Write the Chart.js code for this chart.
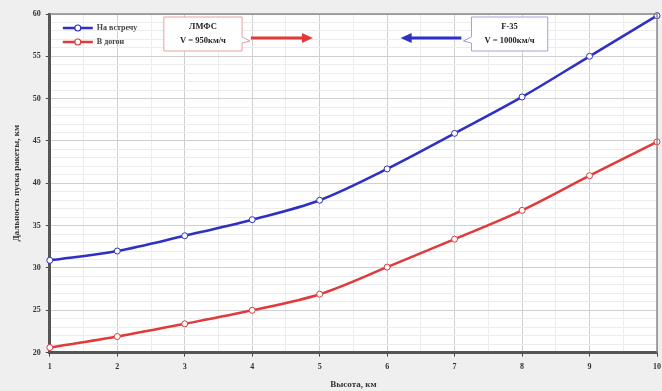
<!DOCTYPE html>
<html>
<head>
<meta charset="utf-8">
<script src="https://cdn.jsdelivr.net/npm/chart.js@4.4.1/dist/chart.umd.min.js"></script>
<style>
  html, body { margin: 0; padding: 0; background: #efefef; }
  #wrap { width: 662px; height: 391px; }
</style>
</head>
<body>
<div id="wrap"><canvas id="c" width="662" height="391"></canvas></div>
<script>
// heights, km
const heights = [1, 2, 3, 4, 5, 6, 7, 8, 9, 10];
// launch range, km
const headOn = [30.9, 32.0, 33.8, 35.7, 38.0, 41.7, 45.9, 50.2, 55.0, 59.8];
const tailChase = [20.6, 21.9, 23.4, 25.0, 26.9, 30.1, 33.4, 36.8, 40.9, 44.9];
const seriesNames = ["На встречу", "В догон"];
const boxLeft = ["ЛМФС", "V = 950км/ч"];
const boxRight = ["F-35", "V = 1000км/ч"];

const BLUE = "#2f2fc4";
const RED = "#e03a3a";
const serif = "'Liberation Serif', 'DejaVu Serif', serif";

const toPoints = (ys) => heights.map((h, i) => ({ x: h, y: ys[i] }));

const decor = {
  id: "decor",
  beforeDraw(chart) {
    const { ctx, chartArea: a } = chart;
    ctx.save();
    ctx.fillStyle = "#efefef";
    ctx.fillRect(0, 0, chart.width, chart.height);
    ctx.fillStyle = "#ffffff";
    ctx.fillRect(a.left, a.top, a.right - a.left, a.bottom - a.top);
    ctx.restore();
  },
  afterDraw(chart) {
    const { ctx, chartArea: a, scales } = chart;
    const xs = scales.x;
    ctx.save();
    // frame top / right
    ctx.strokeStyle = "#8a8a8a";
    ctx.lineWidth = 1.5;
    ctx.beginPath();
    ctx.moveTo(a.left, a.top);
    ctx.lineTo(a.right, a.top);
    ctx.lineTo(a.right, a.bottom);
    ctx.stroke();

    // legend
    const items = [[seriesNames[0], BLUE], [seriesNames[1], RED]];
    items.forEach(([label, col], i) => {
      const y = a.top + 14 + i * 14;
      const x0 = a.left + 13;
      ctx.strokeStyle = col;
      ctx.lineWidth = 2.5;
      ctx.beginPath();
      ctx.moveTo(x0, y);
      ctx.lineTo(x0 + 30, y);
      ctx.stroke();
      ctx.beginPath();
      ctx.arc(x0 + 15, y, 3, 0, Math.PI * 2);
      ctx.fillStyle = "#fff";
      ctx.fill();
      ctx.lineWidth = 1.2;
      ctx.stroke();
      ctx.fillStyle = "#444";
      ctx.font = "bold 8px " + serif;
      ctx.textBaseline = "middle";
      ctx.textAlign = "left";
      ctx.fillText(label, x0 + 34, y);
    });

    // callout boxes
    const drawBox = (x1, x2, lines, col, tailRight) => {
      const l = xs.getPixelForValue(x1), r = xs.getPixelForValue(x2);
      const t = a.top + 3, b = a.top + 37;
      ctx.fillStyle = "#ffffff";
      ctx.strokeStyle = col;
      ctx.lineWidth = 1;
      ctx.beginPath();
      ctx.moveTo(l, t);
      ctx.lineTo(r, t);
      if (tailRight) {
        ctx.lineTo(r, b - 14);
        ctx.lineTo(r + 8, b - 10);
        ctx.lineTo(r, b - 8);
        ctx.lineTo(r, b);
        ctx.lineTo(l, b);
      } else {
        ctx.lineTo(r, b);
        ctx.lineTo(l, b);
        ctx.lineTo(l, b - 8);
        ctx.lineTo(l - 8, b - 10);
        ctx.lineTo(l, b - 14);
      }
      ctx.closePath();
      ctx.fill();
      ctx.stroke();
      ctx.fillStyle = "#222";
      ctx.font = "bold 8.5px " + serif;
      ctx.textAlign = "center";
      ctx.textBaseline = "middle";
      ctx.fillText(lines[0], (l + r) / 2, t + 10);
      ctx.fillText(lines[1], (l + r) / 2, t + 24);
    };
    drawBox(2.69, 3.85, boxLeft, "#e8a0a0", true);
    drawBox(7.25, 8.38, boxRight, "#a0a0e0", false);

    // arrows
    const arrow = (fromX, toX, col) => {
      const y = a.top + 24;
      const p1 = xs.getPixelForValue(fromX), p2 = xs.getPixelForValue(toX);
      const dir = Math.sign(p2 - p1);
      ctx.strokeStyle = col;
      ctx.fillStyle = col;
      ctx.lineWidth = 3;
      ctx.beginPath();
      ctx.moveTo(p1, y);
      ctx.lineTo(p2 - dir * 8, y);
      ctx.stroke();
      ctx.beginPath();
      ctx.moveTo(p2, y);
      ctx.lineTo(p2 - dir * 11, y - 5);
      ctx.lineTo(p2 - dir * 11, y + 5);
      ctx.closePath();
      ctx.fill();
    };
    arrow(3.98, 4.9, RED);
    arrow(7.1, 6.2, BLUE);
    ctx.restore();
  }
};

const lineDs = (label, ys, col) => ({
  label,
  data: toPoints(ys),
  borderColor: col,
  borderWidth: 2.5,
  pointRadius: 3,
  pointBorderWidth: 1,
  pointBackgroundColor: "#ffffff",
  pointBorderColor: col,
  cubicInterpolationMode: "monotone",
  clip: false
});

new Chart(document.getElementById("c"), {
  type: "line",
  data: {
    datasets: [
      lineDs(seriesNames[0], headOn, BLUE),
      lineDs(seriesNames[1], tailChase, RED)
    ]
  },
  options: {
    responsive: false,
    animation: false,
    layout: { padding: { top: 14, right: 5, left: 7, bottom: 0 } },
    plugins: { legend: { display: false }, tooltip: { enabled: false } },
    scales: {
      x: {
        type: "linear",
        min: 1,
        max: 10,
        afterFit: (s) => { s.paddingRight = 0; },
        ticks: {
          stepSize: 0.5,
          autoSkip: false,
          maxRotation: 0,
          padding: 6,
          color: "#333",
          font: { family: serif, size: 8, weight: "bold" },
          callback: (v) => (Number.isInteger(v) ? v : "")
        },
        grid: {
          color: (c) => (Number.isInteger(c.tick && c.tick.value) ? "#d0d0d0" : "#ececec"),
          tickColor: (c) => (Number.isInteger(c.tick && c.tick.value) ? "#444" : "rgba(0,0,0,0)"),
          tickLength: 4,
          lineWidth: 1
        },
        border: { color: "#555", width: 3 },
        title: {
          display: true,
          text: "Высота, км",
          color: "#333",
          font: { family: serif, size: 9, weight: "bold" },
          padding: { top: 1, bottom: 1 }
        }
      },
      y: {
        min: 20,
        max: 60,
        ticks: {
          stepSize: 1,
          autoSkip: false,
          padding: 5,
          color: "#333",
          font: { family: serif, size: 8, weight: "bold" },
          callback: (v) => (v % 5 === 0 ? v : "")
        },
        grid: {
          color: (c) => (c.tick && c.tick.value % 5 === 0 ? "#d0d0d0" : "#ececec"),
          tickColor: (c) => (c.tick && c.tick.value % 5 === 0 ? "#444" : "rgba(0,0,0,0)"),
          tickLength: 4,
          lineWidth: 1
        },
        border: { color: "#555", width: 3 },
        title: {
          display: true,
          text: "Дальность пуска ракеты, км",
          color: "#333",
          font: { family: serif, size: 9, weight: "bold" },
          padding: { top: 4, bottom: 6 }
        }
      }
    }
  },
  plugins: [decor]
});
</script>
</body>
</html>
